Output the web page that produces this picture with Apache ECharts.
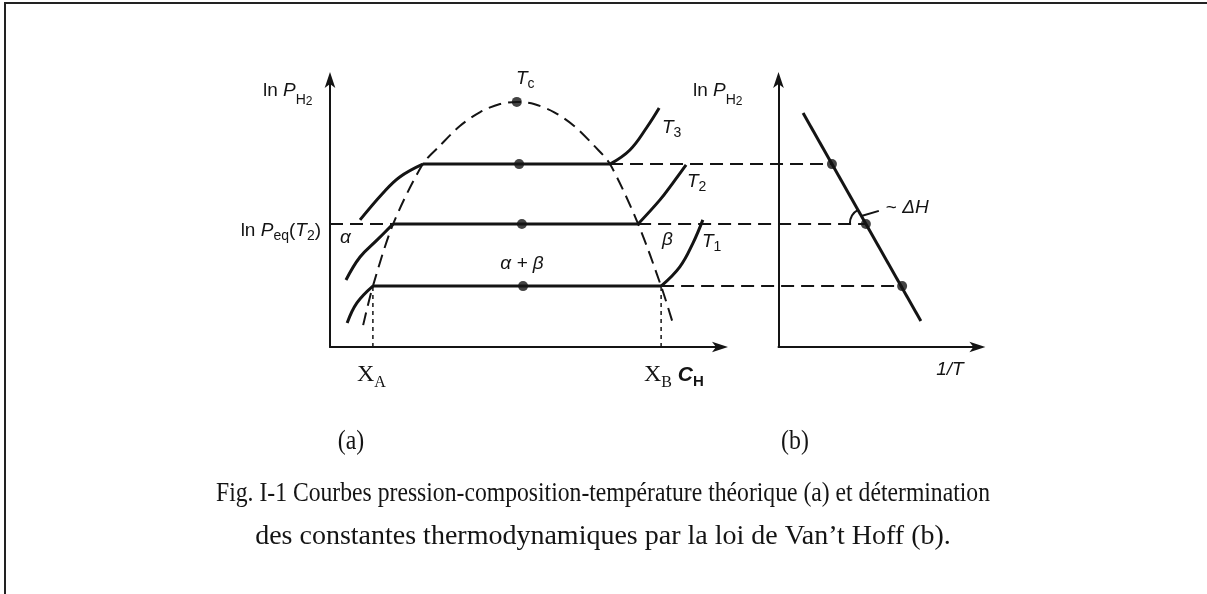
<!DOCTYPE html>
<html>
<head>
<meta charset="utf-8">
<title>Courbes pression-composition-temperature</title>
<script src="https://cdn.jsdelivr.net/npm/echarts@6/dist/echarts.min.js"></script>
<style>
  html, body { margin: 0; padding: 0; background: #fff; }
  #main { width: 1207px; height: 594px; }
</style>
</head>
<body>
<div id="main"></div>
<script>
// values, arbitrary units (x: C_H, y: ln P_H2)
// plateau pressures for T3, T2, T1
var levels = [68.5, 46.1, 22.8];
var plateauStart = [23.8, 16.2, 11.0];   // alpha limit
var plateauEnd = [71.8, 79.0, 84.9];     // beta limit
var plateauMid = [48.5, 49.2, 49.5];
var critical = [47.9, 91.8];             // T_c

// two-phase dome (dashed)
var domeX = [8.5, 11.0, 16.2, 23.8, 28.2, 33.3, 38.5, 43.6, 47.9, 52.3, 57.4, 62.6, 67.7, 71.8, 79.0, 84.9, 87.9];
var domeY = [8.2, 22.8, 46.1, 68.5, 75.4, 82.8, 88.0, 91.0, 91.8, 91.0, 88.0, 82.8, 75.4, 68.5, 46.1, 22.8, 9.0];

// isotherm branches
var alphaT3 = [[7.7, 47.6], [13.6, 57.7], [17.9, 63.7], [23.8, 68.5]];
var betaT3 = [[71.8, 68.5], [76.9, 73.8], [81.3, 82.4], [84.4, 89.5]];
var alphaT2 = [[4.1, 25.1], [7.7, 33.7], [12.1, 40.1], [16.2, 46.1]];
var betaT2 = [[79.0, 46.1], [84.6, 55.1], [87.9, 61.4], [91.3, 68.2]];
var alphaT1 = [[4.4, 9.0], [6.9, 16.5], [11.0, 22.8]];
var betaT1 = [[84.9, 22.8], [89.7, 30.0], [93.1, 39.0], [95.6, 47.6]];

// panel (b): Van't Hoff line, x continues in the same units
var vantHoff = [[121.3, 87.6], [151.5, 9.7]];
var vantHoffX = [128.7, 137.4, 146.7];

var ink = '#141414';
var sans = 'Liberation Sans, Arial, sans-serif';
var serif = 'Liberation Serif, Times New Roman, serif';

var myChart = echarts.init(document.getElementById('main'));

function axis(grid, min, max, show) {
    return {
        gridIndex: grid,
        type: 'value',
        min: min,
        max: max,
        show: show,
        axisLine: {
            show: true,
            onZero: false,
            symbol: ['none', 'arrow'],
            symbolSize: [8, 16],
            symbolOffset: [0, 8],
            lineStyle: {color: ink, width: 2}
        },
        axisTick: {show: false},
        axisLabel: {show: false},
        splitLine: {show: false}
    };
}

function line(data, width, dash, extra) {
    var s = {
        type: 'line',
        xAxisIndex: 0,
        yAxisIndex: 0,
        data: data,
        symbol: 'none',
        silent: true,
        lineStyle: {color: ink, width: width, type: dash || 'solid'}
    };
    for (var k in extra) s[k] = extra[k];
    return s;
}

var series = [];

series.push(line(domeX.map(function (x, i) { return [x, domeY[i]]; }), 2, [13, 7],
    {smooth: 0.3}));

[alphaT3, betaT3, alphaT2, betaT2, alphaT1, betaT1].forEach(function (d) {
    series.push(line(d, 3, 'solid', {smooth: 0.4}));
});

levels.forEach(function (y, i) {
    // plateau
    series.push(line([[plateauStart[i], y], [plateauEnd[i], y]], 3, 'solid'));
    // dashed link to panel (b), drawn on the wide hidden grid
    series.push(line([[plateauEnd[i], y], [vantHoffX[i], y]], 2, [13, 7],
        {xAxisIndex: 2, yAxisIndex: 2}));
});

// ln Peq(T2) reference line from the axis
series.push(line([[0, levels[1]], [plateauStart[1], levels[1]]], 2, [13, 7]));

// X_A and X_B drop lines
series.push(line([[plateauStart[2], 0], [plateauStart[2], levels[2]]], 1.5, [4, 4]));
series.push(line([[plateauEnd[2], 0], [plateauEnd[2], levels[2]]], 1.5, [4, 4]));

series.push({
    type: 'scatter',
    xAxisIndex: 0,
    yAxisIndex: 0,
    symbolSize: 10,
    silent: true,
    itemStyle: {color: ink},
    data: plateauMid.map(function (x, i) { return [x, levels[i]]; }).concat([critical])
});

series.push({
    type: 'line',
    xAxisIndex: 1,
    yAxisIndex: 1,
    data: vantHoff,
    symbol: 'none',
    silent: true,
    lineStyle: {color: ink, width: 3}
});
series.push({
    type: 'scatter',
    xAxisIndex: 1,
    yAxisIndex: 1,
    symbolSize: 10,
    silent: true,
    itemStyle: {color: ink},
    data: vantHoffX.map(function (x, i) { return [x, levels[i]]; })
});

var option = {
    animation: false,
    grid: [
        {left: 330, top: 80, width: 390, height: 267},
        {left: 778.5, top: 80, width: 198.9, height: 267},
        {left: 330, top: 80, width: 647.4, height: 267}
    ],
    xAxis: [axis(0, 0, 100, true), axis(1, 115, 166, true), axis(2, 0, 166, false)],
    yAxis: [axis(0, 0, 100, true), axis(1, 0, 100, true), axis(2, 0, 100, false)],
    series: series
};
myChart.setOption(option);

// labels
var rich = {
    n: {fontSize: 19, fontFamily: sans, fill: ink, verticalAlign: 'middle'},
    i: {fontSize: 19, fontFamily: sans, fontStyle: 'italic', fill: ink, verticalAlign: 'middle'},
    s: {fontSize: 14, fontFamily: sans, fill: ink, verticalAlign: 'middle', padding: [18, 0, 0, 0]},
    ss: {fontSize: 12, fontFamily: sans, fill: ink, verticalAlign: 'middle', padding: [22, 0, 0, 0]},
    t: {fontSize: 14, fontFamily: sans, fill: ink, verticalAlign: 'middle', padding: [10, 0, 0, 0]},
    X: {fontSize: 24, fontFamily: serif, fill: ink, verticalAlign: 'middle'},
    xs: {fontSize: 16, fontFamily: serif, fill: ink, verticalAlign: 'middle', padding: [16, 0, 0, 0]},
    c: {fontSize: 21, fontFamily: sans, fontStyle: 'italic', fontWeight: 'bold', fill: ink, verticalAlign: 'middle'},
    cs: {fontSize: 15, fontFamily: sans, fontWeight: 'bold', fill: ink, verticalAlign: 'middle', padding: [14, 0, 0, 0]}
};

function label(x, y, text, align) {
    return {
        type: 'text',
        x: x,
        y: y,
        silent: true,
        style: {text: text, rich: rich, align: align || 'left', verticalAlign: 'middle', fill: ink}
    };
}

function plain(x, y, text, size, family, sx) {
    return {
        type: 'text',
        x: x,
        y: y,
        scaleX: sx || 1,
        silent: true,
        style: {text: text, fontSize: size, fontFamily: family, fill: ink, align: 'center', verticalAlign: 'middle'}
    };
}

var dot = myChart.convertToPixel({xAxisIndex: 1, yAxisIndex: 1}, [vantHoffX[1], levels[1]]);
var upper = myChart.convertToPixel({xAxisIndex: 1, yAxisIndex: 1}, vantHoff[0]);
var ang = Math.atan2(upper[1] - dot[1], upper[0] - dot[0]) + 2 * Math.PI;
var ux = Math.cos(ang), uy = Math.sin(ang);

var graphics = [
    // frame
    {type: 'polyline', silent: true, shape: {points: [[5, 594], [5, 3], [1207, 3]]},
     style: {stroke: '#222', lineWidth: 2, fill: null}},
    label(263, 91, '{n|ln }{i|P}{s|H}{ss|2}'),
    label(693, 91, '{n|ln }{i|P}{s|H}{ss|2}'),
    label(321, 231, '{n|ln }{i|P}{t|eq}{n|(}{i|T}{t|2}{n|)}', 'right'),
    label(516, 79, '{i|T}{t|c}'),
    label(662, 128, '{i|T}{t|3}'),
    label(687, 182, '{i|T}{t|2}'),
    label(702, 242, '{i|T}{t|1}'),
    label(340, 238, '{i|\u03b1}'),
    label(662, 240, '{i|\u03b2}'),
    label(522, 264, '{i|\u03b1 + \u03b2}', 'center'),
    label(dot[0] + 20, dot[1] - 16, '{n|~ }{i|\u0394H}'),
    label(950, 370, '{i|1/T}', 'center'),
    label(357, 375, '{X|X}{xs|A}'),
    label(644, 375, '{X|X}{xs|B}{c| C}{cs|H}'),
    plain(351, 442, '(a)', 28, serif, 0.85),
    plain(795, 442, '(b)', 28, serif, 0.85),
    plain(603, 494, 'Fig. I-1 Courbes pression-composition-température théorique (a) et détermination', 28, serif, 0.845),
    plain(603, 537, 'des constantes thermodynamiques par la loi de Van\u2019t Hoff (b).', 28, serif, 1.0),
    // angle mark for the slope ~ dH
    {type: 'arc', silent: true,
     shape: {cx: dot[0], cy: dot[1], r: 16, startAngle: Math.PI, endAngle: ang, clockwise: true},
     style: {stroke: ink, lineWidth: 2, fill: null}},
    {type: 'line', silent: true,
     shape: {x1: dot[0] + 9 * ux, y1: dot[1] + 9 * uy, x2: dot[0] + 13, y2: dot[1] - 13},
     style: {stroke: ink, lineWidth: 2}}
];

myChart.setOption({graphic: graphics});
</script>
</body>
</html>
